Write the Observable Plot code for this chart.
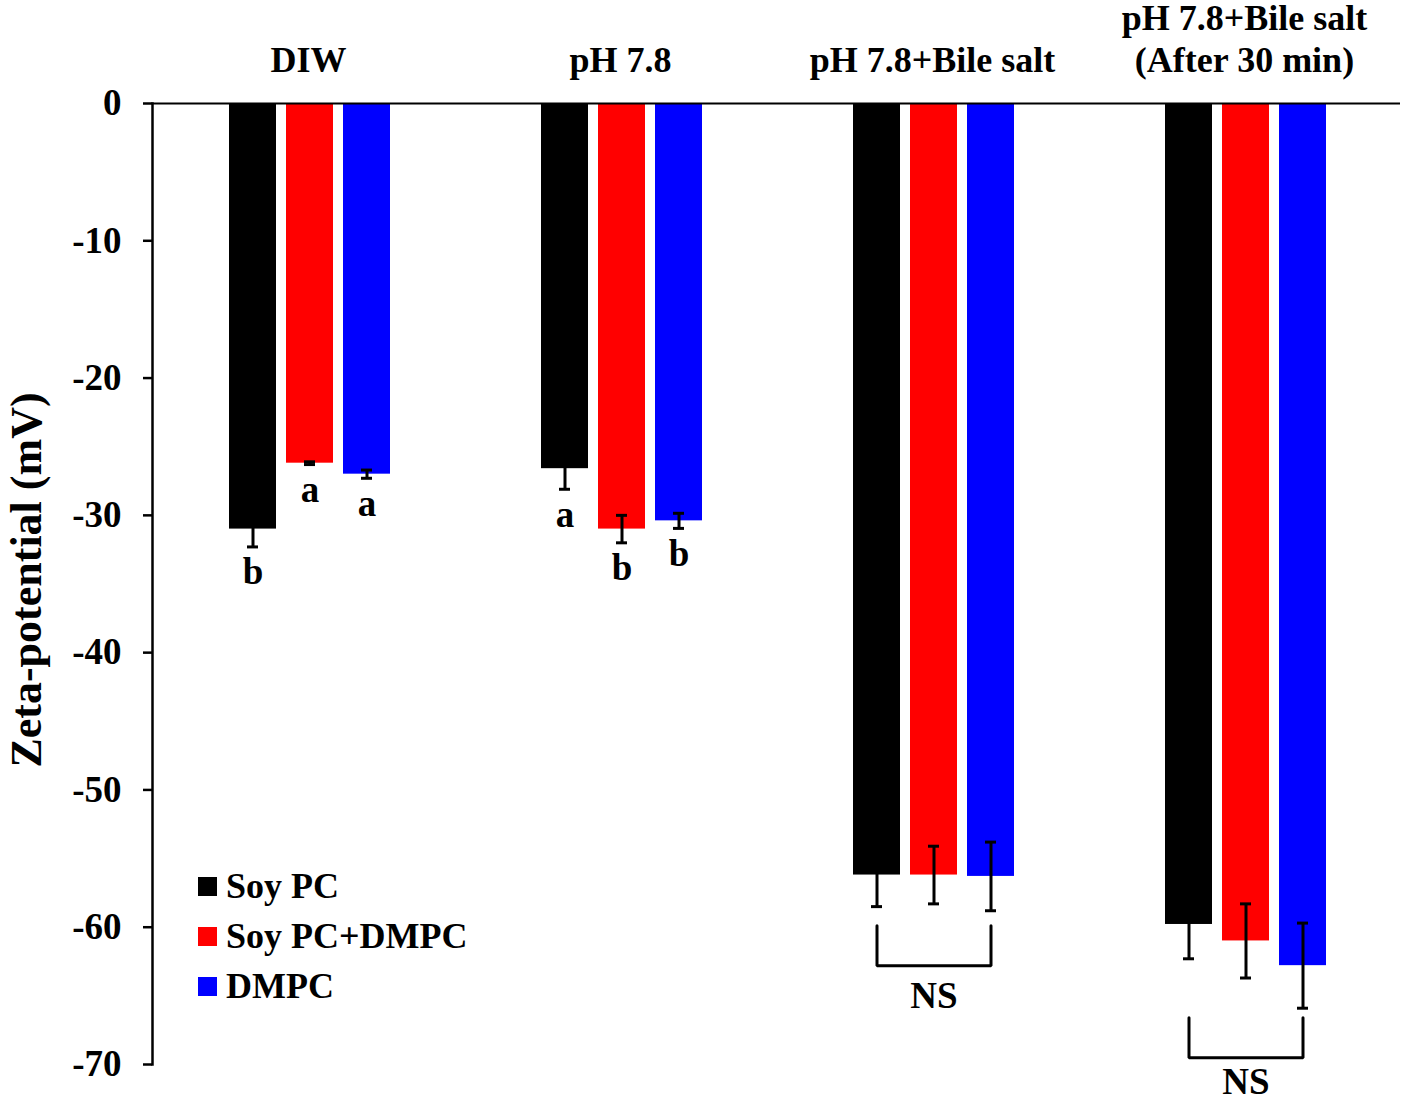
<!DOCTYPE html>
<html>
<head>
<meta charset="utf-8">
<script src="https://cdn.jsdelivr.net/npm/d3@7"></script>
<script src="https://cdn.jsdelivr.net/npm/@observablehq/plot@0.6"></script>
<style>
  body { margin: 0; background: #fff; }
  #wrap { position: relative; width: 1406px; height: 1102px; }
  .legend { position: absolute; left: 198px; top: 861px; font: bold 36px "Liberation Serif", "Times New Roman", serif; color: #000; }
  .legend .row { display: flex; align-items: center; height: 50px; }
  .legend .sw { width: 19px; height: 19px; margin-right: 9px; }
</style>
</head>
<body>
<div id="wrap"></div>
<script>
// ---- data ----
const groups = ["DIW", "pH 7.8", "pH 7.8+Bile salt", "pH 7.8+Bile salt\n(After 30 min)"];
const series = ["Soy PC", "Soy PC+DMPC", "DMPC"];
const colors = ["#000000", "#ff0000", "#0000ff"];

const soyPC        = [-31.0, -26.6, -56.2, -59.8];
const soyPCErr     = [1.3, 1.5, 2.3, 2.5];
const soyPCLetters = ["b", "a", "", ""];

const soyDMPC        = [-26.2, -31.0, -56.2, -61.0];
const soyDMPCErr     = [0.1, 1.0, 2.1, 2.7];
const soyDMPCLetters = ["a", "b", "", ""];

const dmpc        = [-27.0, -30.4, -56.3, -62.8];
const dmpcErr     = [0.3, 0.55, 2.5, 3.1];
const dmpcLetters = ["a", "b", "", ""];

const yTicks = [0, -10, -20, -30, -40, -50, -60, -70];
const yLabel = "Zeta-potential (mV)";

// NS brackets (groups 3 and 4)
const nsGroups      = [groups[2], groups[3]];
const bracketTop    = [-59.9, -66.6];
const bracketBottom = [-62.8, -69.5];
const nsLabelY      = [-65.0, -71.3];
const nsText        = ["NS", "NS"];

// ---- build tables ----
const seriesData = [
  [soyPC, soyPCErr, soyPCLetters],
  [soyDMPC, soyDMPCErr, soyDMPCLetters],
  [dmpc, dmpcErr, dmpcLetters]
];
const rows = [];
groups.forEach((g, i) => {
  seriesData.forEach(([v, e, l], j) => {
    rows.push({group: g, series: series[j], value: v[i], err: e[i], letter: l[i]});
  });
});
const bracketRows = [];
nsGroups.forEach((g, i) => {
  bracketRows.push({group: g, series: series[0], y: bracketTop[i]});
  bracketRows.push({group: g, series: series[0], y: bracketBottom[i]});
  bracketRows.push({group: g, series: series[2], y: bracketBottom[i]});
  bracketRows.push({group: g, series: series[2], y: bracketTop[i]});
});
const nsRows = nsGroups.map((g, i) => ({group: g, series: series[1], y: nsLabelY[i], label: nsText[i]}));

const font = '"Liberation Serif", "Times New Roman", serif';

const chart = Plot.plot({
  width: 1406,
  height: 1102,
  marginLeft: 152,
  marginRight: 6,
  marginTop: 103,
  marginBottom: 38,
  style: {fontFamily: font, fontWeight: "bold", background: "white", color: "black", overflow: "visible"},
  fx: {domain: groups, padding: 0},
  x: {domain: series, paddingInner: 10 / 58, paddingOuter: 1.2759, align: 76 / 148, axis: null},
  y: {domain: [-70, 0]},
  color: {domain: series, range: colors},
  marks: [
    Plot.barY(rows, {fx: "group", x: "series", y: "value", fill: "series"}),
    Plot.ruleX(rows, {fx: "group", x: "series", y1: d => d.value - d.err, y2: d => d.value + d.err, stroke: "black", strokeWidth: 3}),
    Plot.tickY(rows, {fx: "group", x: "series", y: d => d.value - d.err, stroke: "black", strokeWidth: 3, insetLeft: 18, insetRight: 18}),
    Plot.tickY(rows, {fx: "group", x: "series", y: d => d.value + d.err, stroke: "black", strokeWidth: 3, insetLeft: 18, insetRight: 18}),
    Plot.text(rows.filter(d => d.letter), {fx: "group", x: "series", y: d => d.value - d.err, text: "letter", lineAnchor: "top", dy: 11, fontSize: 37}),
    Plot.line(bracketRows, {fx: "group", x: "series", y: "y", z: "group", stroke: "black", strokeWidth: 3, strokeLinejoin: "miter"}),
    Plot.text(nsRows, {fx: "group", x: "series", y: "y", text: "label", fontSize: 37}),
    Plot.ruleY([0], {stroke: "black", strokeWidth: 2}),
    Plot.axisY({ticks: yTicks, tickFormat: d => String(d), tickSize: 9, tickPadding: 22, fontSize: 37, label: null, strokeWidth: 2.5, facetAnchor: "left"}),
    Plot.axisFx({anchor: "top", label: null, tickSize: 0, tickPadding: 32, fontSize: 36, lineHeight: 1.15}),
    Plot.frame({anchor: "left", facetAnchor: "left", stroke: "black", strokeWidth: 2.5}),
    Plot.text([yLabel], {frameAnchor: "left", textAnchor: "middle", rotate: -90, dx: -126, dy: -4, fontSize: 44, facetAnchor: "left"})
  ]
});

const wrap = document.getElementById("wrap");
wrap.appendChild(chart);

// legend inside the plot area
const legend = document.createElement("div");
legend.className = "legend";
series.forEach((s, i) => {
  const row = document.createElement("div");
  row.className = "row";
  const sw = document.createElement("span");
  sw.className = "sw";
  sw.style.background = colors[i];
  const label = document.createElement("span");
  label.textContent = s;
  row.appendChild(sw);
  row.appendChild(label);
  legend.appendChild(row);
});
wrap.appendChild(legend);
</script>
</body>
</html>
